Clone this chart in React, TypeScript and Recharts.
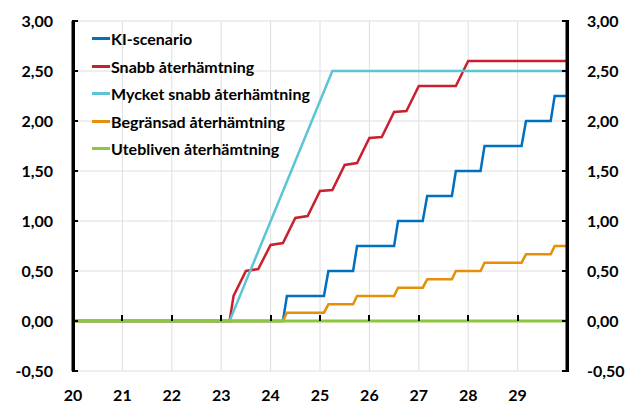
import { LineChart, Line, XAxis, YAxis, CartesianGrid } from 'recharts';

const FONT = 'Lato, "Open Sans", sans-serif';

const xTicks = [20, 21, 22, 23, 24, 25, 26, 27, 28, 29];
const yTicks = [-0.5, 0, 0.5, 1, 1.5, 2, 2.5, 3];
const X_MIN = 20;
const X_MAX = 30;
const Y_MIN = -0.5;
const Y_MAX = 3;

// breakpoints: year (20 = 2020) and value
const kiT = [20, 24.25, 24.33, 25.08, 25.17, 25.67, 25.75, 26.5, 26.58, 27.08, 27.17, 27.67, 27.75, 28.25, 28.33, 29.08, 29.17, 29.67, 29.75, 30];
const kiV = [0, 0, 0.25, 0.25, 0.5, 0.5, 0.75, 0.75, 1.0, 1.0, 1.25, 1.25, 1.5, 1.5, 1.75, 1.75, 2.0, 2.0, 2.25, 2.25];

const snabbT = [20, 23.17, 23.25, 23.5, 23.75, 24.0, 24.25, 24.5, 24.75, 25.0, 25.25, 25.5, 25.75, 26.0, 26.25, 26.5, 26.75, 27.0, 27.75, 28.0, 30];
const snabbV = [0, 0, 0.25, 0.5, 0.52, 0.76, 0.78, 1.03, 1.05, 1.3, 1.31, 1.56, 1.58, 1.83, 1.84, 2.09, 2.1, 2.35, 2.35, 2.6, 2.6];

const mycketT = [20, 23.17, 25.25, 30];
const mycketV = [0, 0, 2.5, 2.5];

const begrT = [20, 24.25, 24.33, 25.08, 25.17, 25.67, 25.75, 26.5, 26.58, 27.08, 27.17, 27.67, 27.75, 28.25, 28.33, 29.08, 29.17, 29.67, 29.75, 30];
const begrV = [0, 0, 0.083, 0.083, 0.167, 0.167, 0.25, 0.25, 0.333, 0.333, 0.417, 0.417, 0.5, 0.5, 0.583, 0.583, 0.667, 0.667, 0.75, 0.75];

const uteT = [20, 30];
const uteV = [0, 0];

const series = [
  { key: 'ki', name: 'KI-scenario', color: '#0070C0', width: 2.5, t: kiT, v: kiV },
  { key: 'snabb', name: 'Snabb återhämtning', color: '#C8202F', width: 2.5, t: snabbT, v: snabbV },
  { key: 'mycket', name: 'Mycket snabb återhämtning', color: '#5BC5D5', width: 2.5, t: mycketT, v: mycketV },
  { key: 'begr', name: 'Begränsad återhämtning', color: '#E58F0A', width: 2.5, t: begrT, v: begrV },
  { key: 'ute', name: 'Utebliven återhämtning', color: '#8DC63F', width: 3, t: uteT, v: uteV },
];

// one table over all breakpoint times; missing cells are bridged with connectNulls
const allT = Array.from(new Set(series.flatMap((s) => s.t))).sort((a, b) => a - b);
const data = allT.map((t) => {
  const row: Record<string, number | null> = { t };
  series.forEach((s) => {
    const i = s.t.indexOf(t);
    row[s.key] = i >= 0 ? s.v[i] : null;
  });
  return row;
});

// layout
const W = 628;
const H = 405;
const TOP = 21;
const LEFT_W = 73;
const RIGHT_W = 61;
const X_H = 34;
const PLOT_W = W - LEFT_W - RIGHT_W;
const PLOT_H = H - TOP - X_H;
const px = (t: number) => LEFT_W + (PLOT_W * (t - X_MIN)) / (X_MAX - X_MIN);
const py = (v: number) => TOP + (PLOT_H * (Y_MAX - v)) / (Y_MAX - Y_MIN);

const fmt = (v: number) => v.toFixed(2).replace('.', ',');
const tickStyle = { fontFamily: FONT, fontWeight: 700, fontSize: 16, fill: '#000' };
const INK = '#000';

const mark = (left: number, top: number, w: number, h: number, key: string) => (
  <div key={key} style={{ position: 'absolute', left, top, width: w, height: h, background: INK }} />
);

// Excel-style axes: lines on both sides, inward ticks, x ticks on the zero line
const AxisFrame = () => (
  <div style={{ position: 'absolute', left: 0, top: 0, width: W, height: H, pointerEvents: 'none', zIndex: 5 }}>
    {mark(px(X_MIN) - 1.5, py(Y_MAX) - 1, 3, PLOT_H + 2, 'la')}
    {mark(px(X_MAX) - 1.5, py(Y_MAX) - 1, 3, PLOT_H + 2, 'ra')}
    {yTicks.map((v) => mark(px(X_MIN), py(v) - 1, 5, 2, 'lt' + v))}
    {yTicks.map((v) => mark(px(X_MAX) - 5, py(v) - 1, 5, 2, 'rt' + v))}
    {xTicks.slice(1).map((t) => mark(px(t) - 1, py(0) - 6, 2, 6, 'xt' + t))}
  </div>
);

const LegendBox = () => (
  <div style={{ position: 'absolute', left: 92, top: 25, zIndex: 6, fontFamily: FONT, fontWeight: 700, fontSize: 16, color: '#000' }}>
    {series.map((s) => (
      <div key={s.name} style={{ display: 'flex', alignItems: 'center', height: 27.5 }}>
        <span style={{ display: 'inline-block', width: 18, height: 3, background: s.color, marginRight: 1 }} />
        <span>{s.name}</span>
      </div>
    ))}
  </div>
);

export default function App() {
  return (
    <div style={{ position: 'absolute', left: 0, top: 0, width: W, height: H }}>
      <LineChart width={W} height={H} data={data} margin={{ top: TOP, right: 0, left: 0, bottom: 0 }}>
        <CartesianGrid stroke="#dedede" strokeWidth={1} />
        <XAxis
          dataKey="t"
          type="number"
          domain={[X_MIN, X_MAX]}
          ticks={xTicks}
          axisLine={false}
          tickLine={false}
          tickSize={0}
          tickMargin={19}
          height={X_H}
          tick={tickStyle}
          interval={0}
        />
        <YAxis
          domain={[Y_MIN, Y_MAX]}
          ticks={yTicks}
          width={LEFT_W}
          tickFormatter={fmt}
          axisLine={{ stroke: '#000', strokeWidth: 3 }}
          tickLine={false}
          tickSize={0}
          tickMargin={20}
          tick={tickStyle}
          interval={0}
        />
        <YAxis
          yAxisId="r"
          orientation="right"
          domain={[Y_MIN, Y_MAX]}
          ticks={yTicks}
          width={RIGHT_W}
          tickFormatter={fmt}
          axisLine={{ stroke: '#000', strokeWidth: 3 }}
          tickLine={false}
          tickSize={0}
          tickMargin={20}
          tick={tickStyle}
          interval={0}
        />
        {series.map((s, i) => (
          <Line
            key={s.key}
            yAxisId={i === series.length - 1 ? 'r' : 0}
            dataKey={s.key}
            name={s.name}
            type="linear"
            connectNulls
            stroke={s.color}
            strokeWidth={s.width}
            dot={false}
            activeDot={false}
            isAnimationActive={false}
          />
        ))}
      </LineChart>
      <AxisFrame />
      <LegendBox />
    </div>
  );
}
